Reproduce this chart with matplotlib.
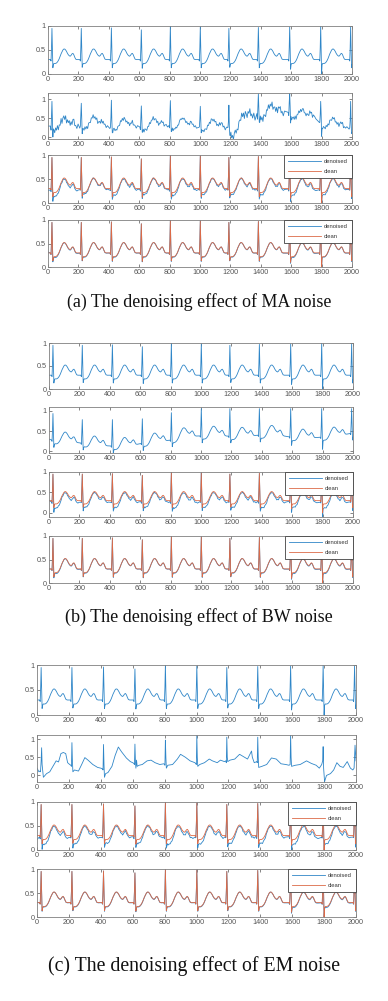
import numpy as np
import matplotlib.pyplot as plt

# R-peak positions (samples)
r_peaks = [26, 219, 417, 614, 805, 1002, 1190, 1384, 1590, 1794, 1991]

# one heartbeat, knots relative to the R peak
knot_offsets = [-10, -6, -3, 0, 3, 6, 9, 13, 18, 24, 30, 36, 42, 48, 54, 60, 66,
                72, 78, 84, 90, 96, 102, 108, 114, 120, 126, 132, 138, 144, 150,
                156, 164, 172]
clean_shape = [0.30, 0.27, 0.55, 0.97, 0.50, 0.13, 0.19, 0.22, 0.22, 0.22, 0.23,
               0.25, 0.28, 0.32, 0.37, 0.42, 0.46, 0.50, 0.52, 0.52, 0.50, 0.47,
               0.43, 0.40, 0.38, 0.37, 0.39, 0.42, 0.43, 0.40, 0.35, 0.31, 0.30, 0.30]
clean_r = [0.95, 0.95, 0.96, 0.92, 1.0, 0.98, 0.95, 0.97, 0.98, 1.0, 0.98]
clean_s = [0.13, 0.14, 0.13, 0.12, 0.13, 0.13, 0.14, 0.13, 0.10, 0.0, 0.13]

# residual error shape of the denoisers (largest in the ST segment)
err_shape = [0.3, 0.3, 0, 0, 0.5, 1, 1, 1, 1, 1, 1, 0.9, 0.8, 0.7, 0.5, 0.4, 0.3,
             0.3, 0.3, 0.3, 0.3, 0.35, 0.4, 0.5, 0.6, 0.6, 0.6, 0.5, 0.5, 0.5, 0.5,
             0.5, 0.5, 0.5]
jitter = [0.2, -0.6, 0.9, -0.3, 0.5, -1.0, 0.7, 0.1, -0.8, 0.6, -0.2, 0.9, -0.7,
          0.3, -0.4, 1.0, -0.9, 0.2, 0.6, -0.5, 0.8, -1.0, 0.4, -0.1, 0.7, -0.6,
          0.3, -0.9, 0.5, 0.9, -0.4, 0.1, -0.7, 0.6]
jitter_shift = [0, 7, 13, 3, 21, 11, 17, 5, 25, 9, 15]

# (a) MA noise
ma_wander_x = [0, 26, 120, 219, 310, 417, 614, 805, 1002, 1100, 1180, 1215, 1250,
               1300, 1384, 1480, 1560, 1600, 1680, 1760, 1800, 1890, 2000]
ma_wander_y = [0, -0.03, 0, 0, 0.03, -0.02, -0.03, 0, -0.03, -0.05, -0.05, -0.2,
               -0.15, 0.23, 0.25, 0.35, 0.35, 0.3, 0.2, 0.25, 0.05, -0.03, -0.06]
ma_r = [0.95, 0.9, 0.98, 0.83, 0.97, 0.82, 0.85, 1.15, 1.15, 0.95, 0.95]
ma_jit = [0.09, 0.06, 0.05, 0.05, 0.04, 0.05, 0.1, 0.09, 0.06, 0.05, 0.05]
a3_err = [0.08, 0.03, 0.06, 0.04, 0.06, 0.04, 0.04, 0.05, 0.06, 0.05, 0.05]
a4_err = [0.02, 0.01, 0.01, 0.01, 0.01, 0.01, 0.01, 0.01, 0.02, 0.01, 0.01]

# (b) BW noise
bw_wander_x = [0, 26, 120, 219, 310, 417, 510, 614, 700, 805, 900, 1002, 1100,
               1190, 1290, 1384, 1480, 1590, 1690, 1794, 1890, 2000]
bw_wander_y = [0, -0.03, -0.05, -0.1, -0.15, -0.17, -0.18, -0.1, -0.07, -0.02,
               0.07, 0.08, 0.1, 0.07, 0.07, 0.1, 0.12, 0.05, 0.02, 0.05, 0.08, 0.15]
bw_r = [0.93, 0.78, 0.78, 0.8, 0.95, 1.05, 1.05, 1.05, 1.05, 1.05, 1.05]
b3_err = [0.1, 0.08, 0.09, 0.08, 0.1, 0.08, 0.08, 0.09, 0.08, 0.1, 0.08]
b4_err = [0.02, 0.01, 0.01, 0.01, 0.01, 0.01, 0.01, 0.01, 0.02, 0.02, 0.01]

# (c) EM noise, traced directly
em_x = [0, 12, 18, 22, 26, 29, 32, 40, 60, 80, 100, 120, 135, 150, 165, 180, 192,
        205, 212, 216, 219, 222, 225, 235, 260, 280, 300, 320, 350, 380, 400, 410,
        414, 417, 420, 423, 430, 445, 470, 490, 510, 530, 560, 585, 600, 607,
        611, 614, 617, 620, 624, 628, 640, 660, 690, 715, 740, 770, 795, 800,
        802, 805, 808, 811, 820, 850, 880, 900, 930, 960, 990, 996,
        999, 1002, 1005, 1008, 1020, 1050, 1080, 1100, 1130, 1150, 1175, 1184,
        1187, 1190, 1193, 1196, 1210, 1240, 1270, 1300, 1320, 1345, 1350, 1362,
        1378, 1381, 1384, 1387, 1390, 1410, 1440, 1470, 1500, 1530, 1560, 1580,
        1587, 1590, 1593, 1596, 1620, 1650, 1690, 1720, 1750, 1770, 1785,
        1791, 1794, 1797, 1803, 1815, 1840, 1860, 1880, 1900, 1920, 1945, 1965,
        1980, 1988, 1994, 2000]
em_y = [0.2, 0.1, 0.12, 0.1, 0.4, 0.76, 0.3, -0.05, 0.05, 0.1, 0.25, 0.4, 0.37,
        0.6, 0.63, 0.6, 0.35, 0.3, 0.28, 0.25, 0.9, 0.4, 0.1, 0.15, 0.12, 0.3,
        0.49, 0.42, 0.3, 0.22, 0.2, 0.18,
        0.15, 0.85, 0.3, -0.05, 0.05, 0.08, 0.25, 0.55, 0.78, 0.65, 0.48, 0.38,
        0.35, 0.33,
        0.3, 0.86, 0.4, 0.2, 0.42, 0.25, 0.28, 0.3, 0.4, 0.42, 0.35, 0.3, 0.32, 0.3,
        0.28, 0.97, 0.5, 0.2, 0.28, 0.3, 0.45, 0.58, 0.5, 0.4, 0.35, 0.32,
        0.3, 1.1, 0.5, 0.25, 0.3, 0.35, 0.45, 0.4, 0.35, 0.42, 0.38, 0.4,
        0.35, 1.05, 0.5, 0.38, 0.42, 0.45, 0.58, 0.5, 0.45, 0.67, 0.5, 0.35,
        0.38, 0.35, 1.05, 0.5, 0.22, 0.25, 0.3, 0.48, 0.45, 0.32, 0.3, 0.28,
        0.3, 1.12, 0.5, 0.25, 0.28, 0.3, 0.4, 0.33, 0.28, 0.2, 0.3,
        0.4, 0.79, 0.2, -0.17, 0.0, 0.05, 0.15, 0.35, 0.25, 0.22, 0.38, 0.2,
        0.15, 0.2, 0.83, 0.4]
c3_err = [0.1, 0.09, 0.08, 0.08, 0.1, 0.09, 0.08, 0.08, 0.1, 0.09, 0.08]
c4_err = [0.01, 0.01, 0.01, 0.01, 0.01, 0.01, 0.01, 0.01, 0.02, 0.02, 0.01]

BLUE = '#2f86c8'
ORANGE = '#dc6a47'
SANS = 'Liberation Sans'


def build(r_heights, err=None, jit=None, wander=None, start=0.3):
    xs, ys = [0], [start]
    for i, r in enumerate(r_peaks):
        v = np.array(clean_shape, dtype=float)
        v[5] = clean_s[i]
        if err is not None:
            v -= err[i] * np.array(err_shape)
        if jit is not None:
            v += jit[i] * np.roll(jitter, jitter_shift[i])
        x = r + np.array(knot_offsets)
        if wander is not None:
            v += np.interp(x, wander[0], wander[1])
        v[3] = r_heights[i] if err is None else r_heights[i] - err[i] * 0.05
        xs.extend(x)
        ys.extend(v)
    return np.array(xs), np.array(ys)


fig = plt.figure(figsize=(3.88, 10.01), dpi=100)
W, H = 388, 1001


def new_ax(l, t, r, b, ylim):
    ax = fig.add_axes([l / W, 1 - b / H, (r - l) / W, (b - t) / H])
    ax.set_xlim(0, 2000)
    ax.set_ylim(*ylim)
    ax.set_xticks(range(0, 2001, 200))
    ax.set_yticks([0, 0.5, 1])
    ax.set_yticklabels(['0', '0.5', '1'])
    ax.tick_params(direction='in', length=2, width=0.5, labelsize=5.2,
                   colors='#555555', top=True, right=True, pad=1.5)
    for lab in ax.get_xticklabels() + ax.get_yticklabels():
        lab.set_family(SANS)
    for s in ax.spines.values():
        s.set_color('#808080')
        s.set_linewidth(0.6)
    return ax


def pair(ax, den, cln):
    ax.plot(*den, color=BLUE, lw=0.6, label='denoised')
    ax.plot(*cln, color=ORANGE, lw=0.6, label='clean')
    leg = ax.legend(loc='upper right', borderaxespad=0, fancybox=False,
                    framealpha=1, edgecolor='#404040', handlelength=5.5,
                    handletextpad=0.6, labelspacing=0.75, borderpad=0.7,
                    prop={'family': SANS, 'size': 4.2})
    leg.get_frame().set_linewidth(0.6)
    for t in leg.get_texts():
        t.set_color('#333333')


clean = build(clean_r)
groups = [
    (48, 352, [(26, 74), (93, 139), (155, 203), (220, 267)],
     [(0, 1), (-0.04, 1.17), (0, 1), (0, 1)],
     build(ma_r, jit=ma_jit, wander=(ma_wander_x, ma_wander_y)),
     build(clean_r, err=a3_err, jit=[0.015] * 11, start=0.25),
     build(clean_r, err=a4_err, start=0.32),
     '(a) The denoising effect of MA noise', 199, 302, 12.9),
    (49, 353, [(343, 389), (407, 453), (472, 517), (536, 583)],
     [(0, 1), (-0.04, 1.09), (-0.1, 1), (0, 1)],
     build(bw_r, wander=(bw_wander_x, bw_wander_y)),
     build(clean_r, err=b3_err, jit=[0.015] * 11, start=0.3),
     build(clean_r, err=b4_err, start=0.3),
     '(b) The denoising effect of BW noise', 198.5, 617, 13.0),
    (37, 356, [(665, 715), (735, 782), (802, 850), (869, 917)],
     [(0, 1), (-0.18, 1.11), (0, 1), (0, 1)],
     (np.array(em_x), np.array(em_y)),
     build(clean_r, err=c3_err, jit=[0.015] * 11, start=0.22),
     build(clean_r, err=c4_err, start=0.3),
     '(c) The denoising effect of EM noise', 193.5, 966, 14.2),
]

for left, right, rows, ylims, noisy, den3, den4, caption, cap_x, cap_y, cap_fs in groups:
    ax1 = new_ax(left, rows[0][0], right, rows[0][1], ylims[0])
    ax1.plot(*clean, color=BLUE, lw=0.6)
    ax2 = new_ax(left, rows[1][0], right, rows[1][1], ylims[1])
    ax2.plot(*noisy, color=BLUE, lw=0.6)
    ax3 = new_ax(left, rows[2][0], right, rows[2][1], ylims[2])
    pair(ax3, den3, clean)
    ax4 = new_ax(left, rows[3][0], right, rows[3][1], ylims[3])
    pair(ax4, den4, clean)
    fig.text(cap_x / W, 1 - cap_y / H, caption, ha='center', va='center',
             fontsize=cap_fs, family='Liberation Serif', color='#111111')

fig.savefig('out.png', dpi=100)
